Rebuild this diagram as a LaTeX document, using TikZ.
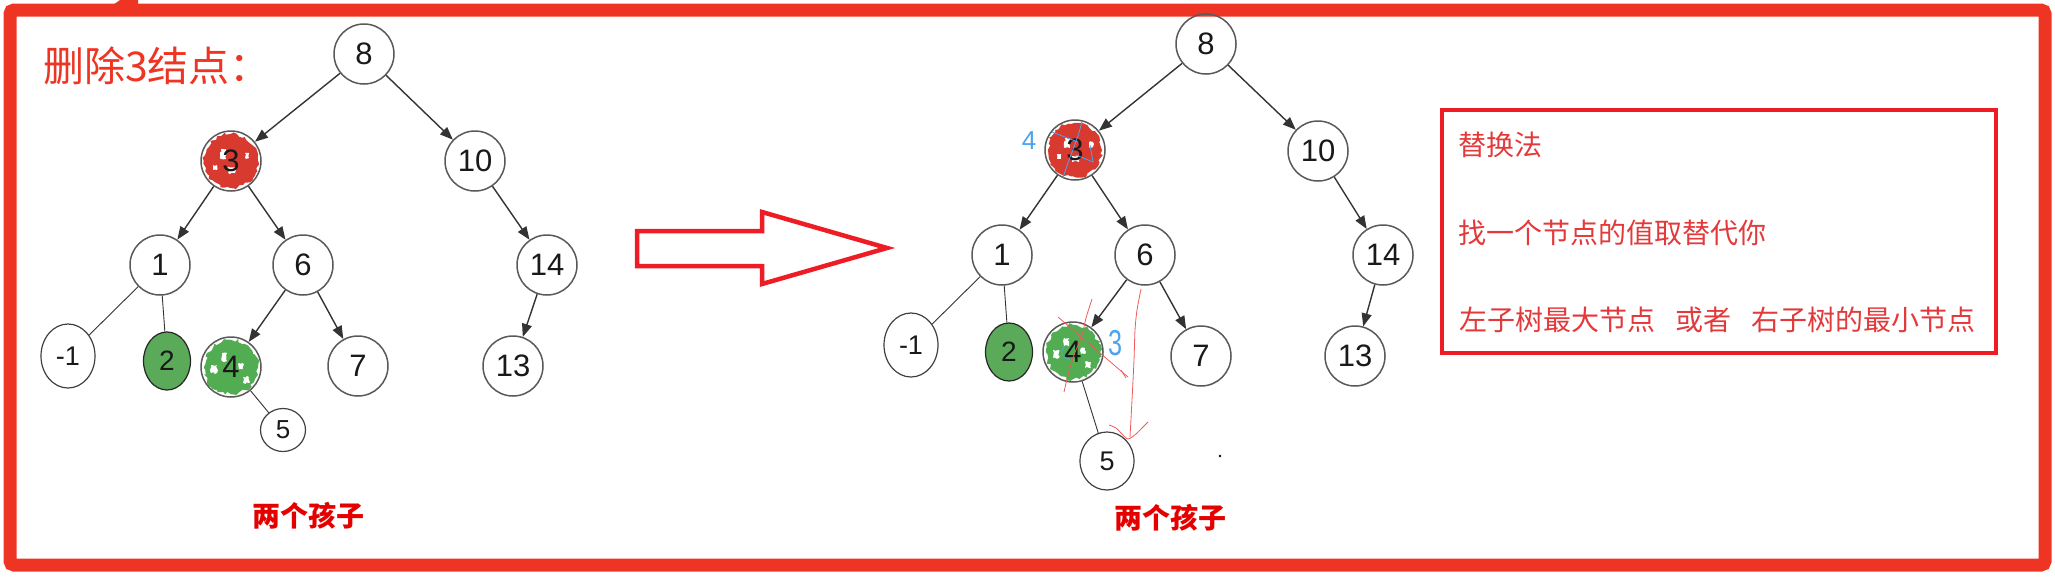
\documentclass[tikz,border=0pt]{standalone}
\usepackage{fontspec}
\setmainfont{Liberation Sans}
\newfontfamily\cjk{Noto Sans CJK SC}
\usetikzlibrary{arrows.meta,shapes.geometric,decorations.pathmorphing,backgrounds,calc}
\definecolor{framered}{HTML}{EE3524}
\definecolor{boxred}{HTML}{EE1D25}
\definecolor{txtred}{HTML}{E3393A}
\definecolor{fillred}{HTML}{D93A2F}
\definecolor{fillgreen}{HTML}{52AC52}
\definecolor{nodegreen}{HTML}{5AAA5A}
\definecolor{markred}{HTML}{F05A5A}
\definecolor{markblue}{HTML}{4DA3EE}
\tikzset{
  tn/.style={circle, draw=black!65, line width=1.5pt, minimum size=60pt, inner sep=0pt,
    font=\fontsize{31}{31}\selectfont, text=black!90},
  te/.style={ellipse, draw=black!75, line width=1.2pt, inner sep=0pt,
    font=\fontsize{27}{27}\selectfont, text=black!90},
  arr/.style={draw=black!80, line width=1.4pt, -{Triangle[length=13pt,width=10pt]}},
  thinln/.style={draw=black!80, line width=0.9pt},
  splotch/.style={decorate, decoration={random steps, segment length=3pt, amplitude=2pt}},
  speck/.style={decorate, decoration={random steps, segment length=2pt, amplitude=1.2pt}},
  redmark/.style={draw=markred, line width=0.8pt},
  bluemark/.style={draw=markblue, line width=0.8pt},
  boxtxt/.style={anchor=west, inner sep=0pt, text=txtred, font=\cjk\fontsize{28}{28}\selectfont},
  kids/.style={inner sep=0pt, text=red!90!black, font=\cjk\bfseries\fontsize{28}{28}\selectfont}
}
\begin{document}
\begin{tikzpicture}[x=1pt,y=-1pt]
\useasboundingbox (0,0) rectangle (2055,579);
\pgfmathsetseed{11}
% frame
\draw[framered, line width=13pt, rounded corners=4pt] (10,10) rectangle (2045,565);
\fill[framered] (113,5) -- (120,0) -- (138,0) -- (138,5) -- cycle;

% title
\node[anchor=west, inner sep=0pt, text=framered, font=\cjk\fontsize{41}{41}\selectfont] (title) at (43,66) {删除3结点：};

% ---------- left tree ----------
\node[tn] (l8) at (364,54) {8};
\node[tn] (l3) at (231,161) {3};
\node[tn] (l10) at (475,161) {10};
\node[tn] (l1) at (160,265) {1};
\node[tn] (l6) at (303,265) {6};
\node[tn] (l14) at (547,265) {14};
\node[te, minimum width=54pt, minimum height=64pt] (lm1) at (68,356) {-1};
\node[te, fill=nodegreen, draw=black!85, minimum width=47pt, minimum height=58pt, font=\fontsize{28}{28}\selectfont] (l2) at (167,361) {2};
\node[tn] (l4) at (231,367) {4};
\node[tn] (l7) at (358,366) {7};
\node[tn] (l13) at (513,366) {13};
\node[te, minimum width=45pt, minimum height=43pt, font=\fontsize{26}{26}\selectfont] (l5) at (283,430) {5};

\begin{scope}[on background layer]
  \fill[fillred, splotch] (l3) circle (27pt);
  \fill[white, speck] ($(l3)+(-10,-12)$) rectangle ($(l3)+(-5,-2)$);
  \fill[white, speck] ($(l3)+(-3,6)$) rectangle ($(l3)+(4,12)$);
  \fill[white, speck] ($(l3)+(-18,4)$) rectangle ($(l3)+(-14,9)$);
  \fill[white, speck] ($(l3)+(14,-8)$) rectangle ($(l3)+(18,-3)$);
  \fill[fillgreen, splotch] (l4) circle (27pt);
  \fill[white, speck] ($(l4)+(-9,-14)$) rectangle ($(l4)+(-4,-6)$);
  \fill[white, speck] ($(l4)+(-20,-2)$) rectangle ($(l4)+(-14,6)$);
  \fill[white, speck] ($(l4)+(12,10)$) rectangle ($(l4)+(18,16)$);
  \fill[white, speck] ($(l4)+(8,-4)$) rectangle ($(l4)+(12,2)$);
\end{scope}

\draw[arr] (l8) -- (l3);
\draw[arr] (l8) -- (l10);
\draw[arr] (l3) -- (l1);
\draw[arr] (l3) -- (l6);
\draw[arr] (l10) -- (l14);
\draw[arr] (l6) -- (l4);
\draw[arr] (l6) -- (l7);
\draw[arr] (l14) -- (l13);
\draw[thinln] (l1) -- (lm1);
\draw[thinln] (l1) -- (l2);
\draw[thinln] (l4) -- (l5);

\node[kids] (lkids) at (308,516) {两个孩子};

% ---------- big hollow arrow ----------
\draw[boxred, line width=4.5pt, line join=miter]
  (637,231) -- (762,231) -- (762,212) -- (887,248) -- (762,284) -- (762,266) -- (637,266) -- cycle;

% ---------- right tree ----------
\node[tn] (r8) at (1206,44) {8};
\node[tn] (r3) at (1075,150) {3};
\node[tn] (r10) at (1318,151) {10};
\node[tn] (r1) at (1002,255) {1};
\node[tn] (r6) at (1145,255) {6};
\node[tn] (r14) at (1383,255) {14};
\node[te, minimum width=54pt, minimum height=64pt] (rm1) at (911,345) {-1};
\node[te, fill=nodegreen, draw=black!85, minimum width=47pt, minimum height=58pt, font=\fontsize{28}{28}\selectfont] (r2) at (1009,352) {2};
\node[tn] (r4) at (1073,352) {4};
\node[tn] (r7) at (1201,356) {7};
\node[tn] (r13) at (1355,356) {13};
\node[te, minimum width=54pt, minimum height=58pt] (r5) at (1107,461) {5};

\begin{scope}[on background layer]
  \fill[fillred, splotch] (r3) circle (27pt);
  \fill[white, speck] ($(r3)+(-10,-12)$) rectangle ($(r3)+(-5,-2)$);
  \fill[white, speck] ($(r3)+(-3,6)$) rectangle ($(r3)+(4,12)$);
  \fill[white, speck] ($(r3)+(-18,4)$) rectangle ($(r3)+(-14,9)$);
  \fill[white, speck] ($(r3)+(14,-8)$) rectangle ($(r3)+(18,-3)$);
  \fill[fillgreen, splotch] (r4) circle (27pt);
  \fill[white, speck] ($(r4)+(-9,-14)$) rectangle ($(r4)+(-4,-6)$);
  \fill[white, speck] ($(r4)+(-20,-2)$) rectangle ($(r4)+(-14,6)$);
  \fill[white, speck] ($(r4)+(12,10)$) rectangle ($(r4)+(18,16)$);
  \fill[white, speck] ($(r4)+(8,-4)$) rectangle ($(r4)+(12,2)$);
\end{scope}

\draw[arr] (r8) -- (r3);
\draw[arr] (r8) -- (r10);
\draw[arr] (r3) -- (r1);
\draw[arr] (r3) -- (r6);
\draw[arr] (r10) -- (r14);
\draw[arr] (r6) -- (r4);
\draw[arr] (r6) -- (r7);
\draw[arr] (r14) -- (r13);
\draw[thinln] (r1) -- (rm1);
\draw[thinln] (r1) -- (r2);
\draw[thinln] (r4) -- (r5);

% blue annotations
\node[text=markblue, inner sep=0pt, font=\fontsize{26}{26}\selectfont] (b4) at (1029,141) {4};
\node[text=markblue, inner sep=0pt, font=\fontsize{36}{36}\selectfont, xscale=0.7] (b3) at (1115,343) {3};
\draw[bluemark] (1082,121) .. controls (1078,140) and (1068,160) .. (1063,178);
\draw[bluemark] (1052,132) -- (1078,142);
\draw[bluemark] (1076,155) -- (1093,162) -- (1090,145);
\draw[bluemark] (1064,346) .. controls (1060,355) .. (1070,360);

% red annotations
\draw[redmark] plot[smooth] coordinates {(1092,299) (1086,318) (1082,335) (1074,355) (1068,375) (1064,392)};
\draw[redmark] (1058,317) -- (1128,377);
\draw[redmark] (1121,370) -- (1126,378);
\draw[redmark] plot[smooth] coordinates {(1141,289) (1137,310) (1135,330) (1134,360) (1132,400) (1130,437)};
\draw[redmark] plot[smooth] coordinates {(1109,425) (1116,428) (1122,434) (1128,439) (1136,434) (1142,428) (1148,422)};

\fill[black] (1220,456) circle (1.3pt);

\node[kids] (rkids) at (1170,518) {两个孩子};

% ---------- text box ----------
\draw[boxred, line width=4pt] (1442,110) rectangle (1996,353);
\node[boxtxt] (t1) at (1458,145) {替换法};
\node[boxtxt] (t2) at (1458,233) {找一个节点的值取替代你};
\node[boxtxt] (t3) at (1459,320) {左子树最大节点\hspace{20pt}或者\hspace{20pt}右子树的最小节点};
\end{tikzpicture}
\end{document}
